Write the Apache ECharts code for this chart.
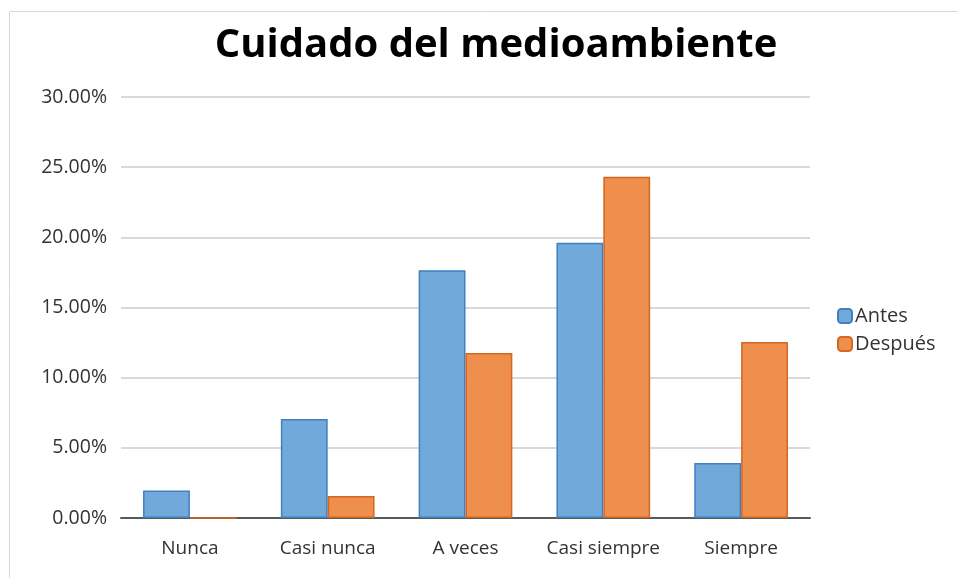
<!DOCTYPE html>
<html>
<head>
<meta charset="utf-8">
<script src="https://cdn.jsdelivr.net/npm/echarts@6/dist/echarts.min.js"></script>
<style>
  html, body { margin: 0; padding: 0; background: #fff; }
  #main { width: 958px; height: 578px; }
</style>
</head>
<body>
<div id="main"></div>
<script>
// datos
const categorias = ["Nunca", "Casi nunca", "A veces", "Casi siempre", "Siempre"];
const antes = [1.96, 7.06, 17.65, 19.61, 3.92];
const despues = [0, 1.57, 11.76, 24.31, 12.55];

let myChart = echarts.init(document.getElementById("main"));
let fuente = "'Open Sans', sans-serif";

let option = {
  animation: false,
  title: {
    text: "Cuidado del medioambiente",
    left: 491,
    top: 21,
    textAlign: "center",
    textStyle: {
      fontFamily: fuente,
      fontWeight: "bold",
      fontSize: 40,
      color: "#000"
    }
  },
  graphic: [
    {
      type: "rect",
      shape: { x: 9.5, y: 11.5, width: 1000, height: 1000 },
      style: { fill: "none", stroke: "#d9d9d9", lineWidth: 1 },
      silent: true
    }
  ],
  legend: {
    orient: "vertical",
    left: 832,
    top: 301,
    itemWidth: 14,
    itemHeight: 14,
    itemGap: 8,
    textStyle: { fontFamily: fuente, fontSize: 20, color: "#333", padding: [0, 0, 0, -2] },
    data: ["Antes", "Después"]
  },
  grid: {
    left: 121,
    right: 148,
    top: 97,
    bottom: 60,
    containLabel: false
  },
  xAxis: {
    type: "category",
    data: categorias,
    axisTick: { show: false },
    axisLine: { lineStyle: { color: "#595959", width: 2 } },
    axisLabel: { interval: 0, fontFamily: fuente, fontSize: 19, color: "#333", margin: 21 }
  },
  yAxis: {
    type: "value",
    min: 0,
    max: 30,
    interval: 5,
    axisLine: { show: false },
    axisTick: { show: false },
    splitLine: { lineStyle: { color: "#d9d9d9", width: 2 } },
    axisLabel: {
      fontFamily: fuente,
      fontSize: 19.5,
      color: "#333",
      margin: 14,
      formatter: function(v) {
        return v.toFixed(2) + "%";
      }
    }
  },
  series: [
    {
      name: "Antes",
      type: "bar",
      data: antes,
      barGap: "0%",
      barCategoryGap: "32%",
      itemStyle: { color: "#72a9db", borderColor: "#3f80c2", borderWidth: 1.5 }
    },
    {
      name: "Después",
      type: "bar",
      data: despues,
      itemStyle: { color: "#ef8f4e", borderColor: "#d4661f", borderWidth: 1.5 }
    }
  ]
};

myChart.setOption(option);
</script>
</body>
</html>
